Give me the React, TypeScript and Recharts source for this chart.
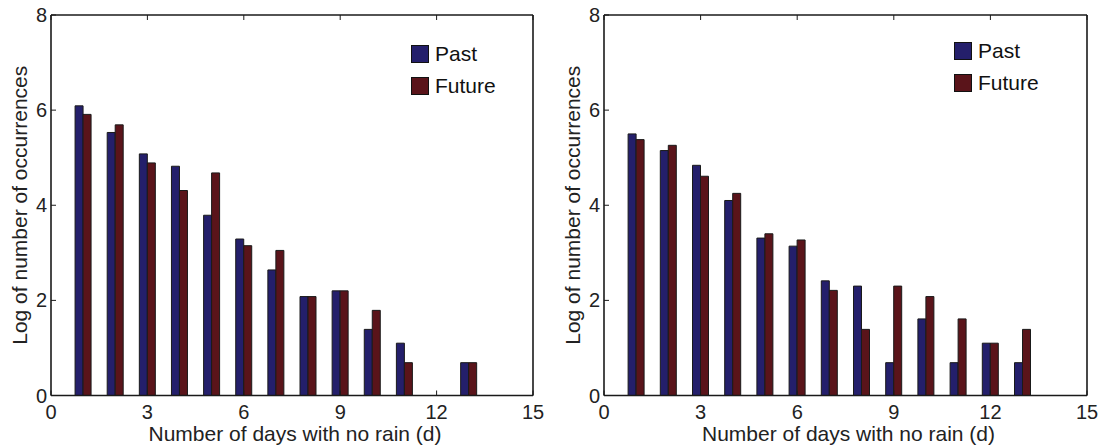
import React from 'react';
import { BarChart, Bar, XAxis, YAxis, Legend, Label } from 'recharts';

const days = [1, 2, 3, 4, 5, 6, 7, 8, 9, 10, 11, 12, 13];
const leftPast = [6.09, 5.53, 5.08, 4.82, 3.79, 3.29, 2.64, 2.08, 2.2, 1.39, 1.1, null, 0.69];
const leftFuture = [5.91, 5.69, 4.89, 4.31, 4.68, 3.15, 3.05, 2.08, 2.2, 1.79, 0.69, null, 0.69];
const rightPast = [5.5, 5.15, 4.84, 4.1, 3.31, 3.14, 2.41, 2.3, 0.69, 1.61, 0.69, 1.1, 0.69];
const rightFuture = [5.38, 5.26, 4.61, 4.25, 3.4, 3.27, 2.21, 1.39, 2.3, 2.08, 1.61, 1.1, 1.39];
const xTicks = [0, 3, 6, 9, 12, 15];
const yTicks = [0, 2, 4, 6, 8];
const seriesNames = ['Past', 'Future'];
const xLabel = 'Number of days with no rain (d)';
const yLabel = 'Log of number of occurrences';

const PAST_COLOR = '#241f6b';
const FUTURE_COLOR = '#5a141a';
const INK = '#1a1a1a';
const FONT = '"Liberation Sans", Arial, Helvetica, sans-serif';

function buildRows(past: (number | null)[], future: (number | null)[]) {
  return days
    .map((d, i) => ({ day: d, past: past[i], future: future[i] }))
    .filter((r) => r.past != null || r.future != null);
}

const renderLegend = (props: any) => {
  const payload = [...(props.payload || [])].sort(
    (a: any, b: any) => seriesNames.indexOf(a.value) - seriesNames.indexOf(b.value)
  );
  return (
    <div style={{ fontFamily: FONT, fontSize: 21, color: '#111', whiteSpace: 'nowrap', width: 120 }}>
      {payload.map((e: any, i: number) => (
        <div key={i} style={{ display: 'flex', alignItems: 'center', height: 32 }}>
          <span
            style={{
              display: 'inline-block',
              flex: '0 0 18px',
              width: 18,
              height: 18,
              boxSizing: 'border-box',
              background: e.color,
              border: '1.5px solid #111',
              marginRight: 6,
            }}
          />
          <span>{e.value}</span>
        </div>
      ))}
    </div>
  );
};

type PanelProps = {
  rows: any[];
  width: number;
  plotLeft: number;
  plotRight: number;
  legendLeft: number;
  legendTop: number;
};

function Panel({ rows, width, plotLeft, plotRight, legendLeft, legendTop }: PanelProps) {
  const height = 447;
  const yAxisWidth = 40;
  const xAxisHeight = 30;
  const plotTop = 15;
  const plotBottom = 395.5;
  const margin = {
    top: plotTop - 1,
    left: plotLeft - yAxisWidth,
    right: width - plotRight - 1,
    bottom: height - plotBottom - xAxisHeight,
  };
  const tickStyle = { fontSize: 20, fill: '#222', fontFamily: FONT };
  return (
    <BarChart width={width} height={height} data={rows} margin={margin} barGap={0}>
      <XAxis
        dataKey="day"
        type="number"
        domain={[0, 15]}
        ticks={xTicks}
        interval={0}
        height={xAxisHeight}
        tickSize={-5}
        tickMargin={14.5}
        tick={tickStyle}
        axisLine={{ stroke: INK, strokeWidth: 1.6 }}
        tickLine={{ stroke: INK, strokeWidth: 1 }}
      >
        <Label
          content={(p: any) => {
            const vb = p.viewBox || {};
            return (
              <text
                x={vb.x + vb.width / 2 + 3}
                y={vb.y + vb.height + 15}
                textAnchor="middle"
                fontSize={21}
                fontFamily={FONT}
                fill="#222"
              >
                {xLabel}
              </text>
            );
          }}
        />
      </XAxis>
      <XAxis
        xAxisId="top"
        orientation="top"
        dataKey="day"
        type="number"
        domain={[0, 15]}
        ticks={xTicks}
        interval={0}
        height={1}
        tickSize={-5}
        tickFormatter={() => ''}
        axisLine={{ stroke: INK, strokeWidth: 1.6 }}
        tickLine={{ stroke: INK, strokeWidth: 1 }}
      />
      <YAxis
        type="number"
        domain={[0, 8]}
        ticks={yTicks}
        interval={0}
        width={yAxisWidth}
        tickSize={-5}
        tickMargin={9}
        tick={tickStyle}
        axisLine={{ stroke: INK, strokeWidth: 1.6 }}
        tickLine={{ stroke: INK, strokeWidth: 1 }}
      >
        <Label
          content={(p: any) => {
            const vb = p.viewBox || {};
            const cx = vb.x + vb.width - 24;
            const cy = vb.y + vb.height / 2;
            return (
              <text
                x={cx}
                y={cy}
                transform={`rotate(-90, ${cx}, ${cy})`}
                textAnchor="middle"
                fontSize={21}
                fontFamily={FONT}
                fill="#222"
              >
                {yLabel}
              </text>
            );
          }}
        />
      </YAxis>
      <YAxis
        yAxisId="right"
        orientation="right"
        type="number"
        domain={[0, 8]}
        ticks={yTicks}
        interval={0}
        width={1}
        tickSize={-5}
        tickFormatter={() => ''}
        axisLine={{ stroke: INK, strokeWidth: 1.6 }}
        tickLine={{ stroke: INK, strokeWidth: 1 }}
      />
      <Legend
        content={renderLegend}
        wrapperStyle={{ left: legendLeft, top: legendTop, width: 0, height: 0, overflow: 'visible' }}
      />
      <Bar
        dataKey="past"
        name={seriesNames[0]}
        fill={PAST_COLOR}
        stroke={INK}
        strokeWidth={1}
        barSize={8}
        isAnimationActive={false}
      />
      <Bar
        dataKey="future"
        name={seriesNames[1]}
        fill={FUTURE_COLOR}
        stroke={INK}
        strokeWidth={1}
        barSize={8}
        isAnimationActive={false}
      />
    </BarChart>
  );
}

export default function App() {
  const leftRows = buildRows(leftPast, leftFuture);
  const rightRows = buildRows(rightPast, rightFuture);
  return (
    <div
      style={{
        position: 'absolute',
        left: 0,
        top: 0,
        width: 1101,
        height: 447,
        background: '#fff',
        display: 'flex',
      }}
    >
      <Panel rows={leftRows} width={550} plotLeft={51} plotRight={533} legendLeft={411} legendTop={38} />
      <Panel rows={rightRows} width={551} plotLeft={54} plotRight={537} legendLeft={404} legendTop={35} />
    </div>
  );
}
